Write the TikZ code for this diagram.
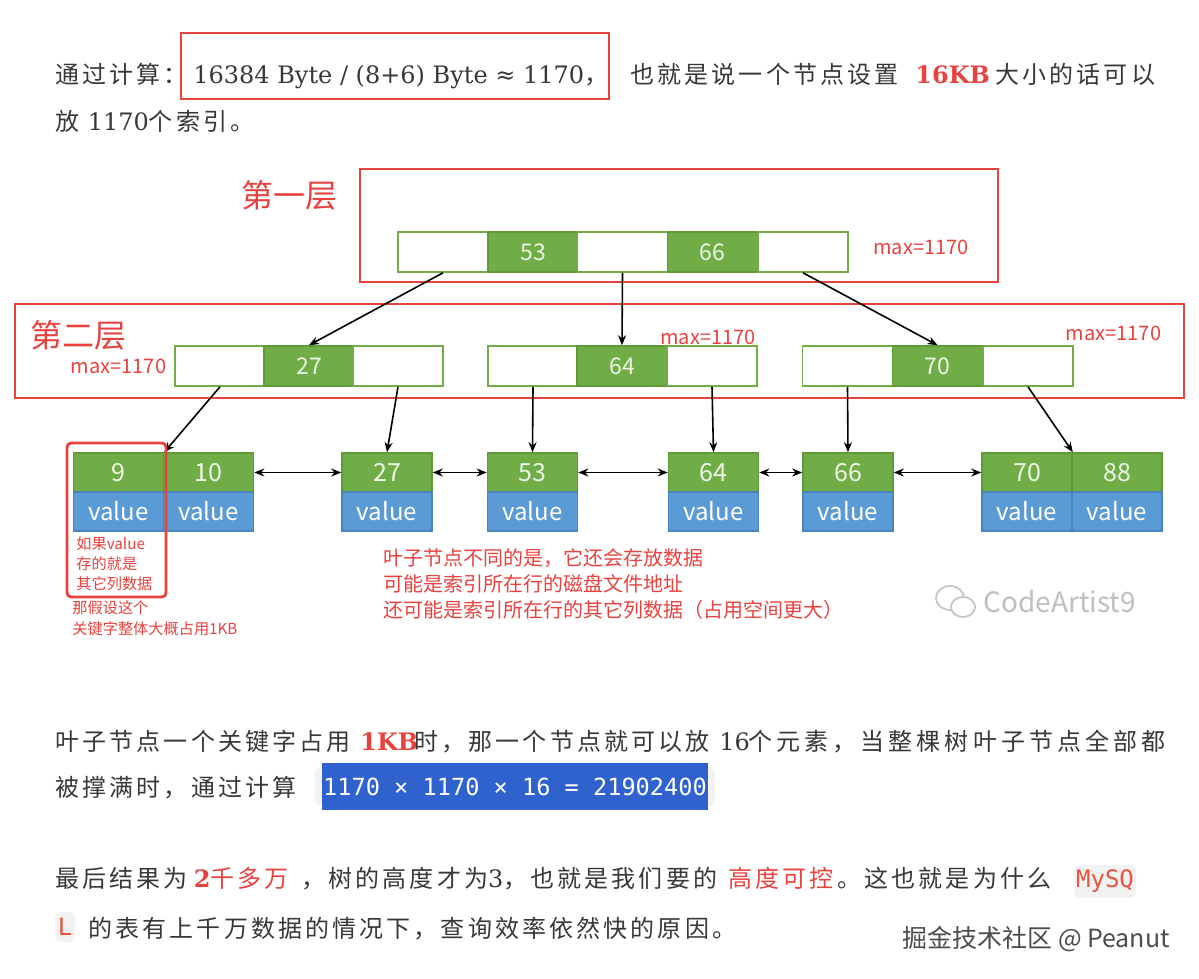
\documentclass[tikz,border=0pt]{standalone}
\usepackage{fontspec}
\usepackage{xcolor}
\usetikzlibrary{arrows.meta}
\setmainfont{Noto Sans CJK SC}
\newfontfamily\bodycjk[LetterSpace=13]{Noto Sans CJK SC}
\newfontfamily\bodylat{DejaVu Serif}
\newfontfamily\codemono{DejaVu Sans Mono}

\definecolor{boxred}{HTML}{E8423F}
\definecolor{cellgreen}{HTML}{70AD47}
\definecolor{cellgreenline}{HTML}{5E9A3A}
\definecolor{leafblue}{HTML}{5B9BD5}
\definecolor{leafblueline}{HTML}{4A84BC}
\definecolor{celltext}{HTML}{EEF7E8}
\definecolor{bodytext}{HTML}{383838}
\definecolor{codeblue}{HTML}{2F62CC}
\definecolor{codegray}{HTML}{F2F2F2}
\definecolor{codered}{HTML}{E8553E}

\tikzset{>={Stealth[length=5pt,width=4pt]},
  emptycell/.style={draw=cellgreen, line width=0.8pt, fill=white, minimum width=45pt, minimum height=20pt, inner sep=0pt},
  keycell/.style={emptycell, fill=cellgreen, draw=cellgreenline, text=celltext, font=\fontsize{11.5}{12}\selectfont},
  leafkey/.style={keycell, minimum height=19.5pt, font=\fontsize{12.5}{13}\selectfont},
  leafval/.style={leafkey, fill=leafblue, draw=leafblueline, text=white, font=\fontsize{12}{13}\selectfont},
  levelbox/.style={draw=boxred, line width=1.4pt},
  maxnote/.style={text=boxred, inner sep=0pt, font=\fontsize{10}{12}\selectfont},
  parline/.style={anchor=base west, inner sep=0pt, text=bodytext, font=\bodycjk\fontsize{12}{14}\selectfont},
  ptr/.style={->, line width=0.8pt},
  link/.style={<->, line width=0.8pt}}

\begin{document}
\begin{tikzpicture}[x=0.5pt,y=-0.5pt]
    \useasboundingbox (0,0) rectangle (1199,979);
    \fill[white] (0,0) rectangle (1199,979);

    % text above the tree
    \node[parline] (t1a) at (55,84) {通过计算：};
    \node[parline] (t1b) at (193,84) {{\bodylat 16384 Byte / (8+6) Byte ≈ 1170}，};
    \node[parline] (t1c) at (630,84) {也就是说一个节点设置};
    \node[parline, text=boxred] (t1d) at (915,84) {\bodylat\bfseries 16KB};
    \node[parline] (t1e) at (995,84) {大小的话可以};
    \node[parline] (t2) at (55,131) {放 {\bodylat 1170}个索引。};
    \draw[levelbox] (181,33) rectangle (609,99);

    % level boxes
    \draw[levelbox] (360,169) rectangle (998,282);
    \draw[levelbox] (15,304) rectangle (1184,398);
    \node[text=boxred, font=\fontsize{16}{18}\selectfont] (lvl1) at (289,195) {第一层};
    \node[text=boxred, font=\fontsize{16}{18}\selectfont] (lvl2) at (78,335) {第二层};

    % first level
    \node[emptycell] (r0) at (443,252) {};
    \node[keycell]   (r1) at (533,252) {53};
    \node[emptycell] (r2) at (622.5,252) {};
    \node[keycell]   (r3) at (712.5,252) {66};
    \node[emptycell] (r4) at (803,252) {};
    \node[maxnote] (m1) at (921,247) {max=1170};

    % second level
    \node[emptycell] (a0) at (220,366) {};
    \node[keycell]   (a1) at (309,366) {27};
    \node[emptycell] (a2) at (398,366) {};
    \node[emptycell] (b0) at (533,366) {};
    \node[keycell]   (b1) at (622,366) {64};
    \node[emptycell] (b2) at (712,366) {};
    \node[emptycell] (c0) at (847.5,366) {};
    \node[keycell]   (c1) at (937.5,366) {70};
    \node[emptycell] (c2) at (1028,366) {};
    \node[maxnote] (m2a) at (118.5,366) {max=1170};
    \node[maxnote] (m2b) at (708,337) {max=1170};
    \node[maxnote] (m2c) at (1113.5,333) {max=1170};

    % leaves
    \node[leafkey] (k9)  at (118.5,472.5) {9};
    \node[leafval] (v9)  at (118.5,511.5) {value};
    \node[leafkey] (k10) at (208.5,472.5) {10};
    \node[leafval] (v10) at (208.5,511.5) {value};
    \node[leafkey] (k27) at (387,472.5) {27};
    \node[leafval] (v27) at (387,511.5) {value};
    \node[leafkey] (k53) at (532.5,472.5) {53};
    \node[leafval] (v53) at (532.5,511.5) {value};
    \node[leafkey] (k64) at (713.5,472.5) {64};
    \node[leafval] (v64) at (713.5,511.5) {value};
    \node[leafkey] (k66) at (848,472.5) {66};
    \node[leafval] (v66) at (848,511.5) {value};
    \node[leafkey] (k70) at (1027,472.5) {70};
    \node[leafval] (v70) at (1027,511.5) {value};
    \node[leafkey] (k88) at (1117,472.5) {88};
    \node[leafval] (v88) at (1117,511.5) {value};

    \draw[ptr] (r0.south) -- (a1.north);
    \draw[ptr] (r2.south) -- (b1.north);
    \draw[ptr] (r4.south) -- (c1.north);
    \draw[ptr] (a0.south) -- (k9.north east);
    \draw[ptr] (a2.south) -- (k27.north);
    \draw[ptr] (b0.south) -- (k53.north);
    \draw[ptr] (b2.south) -- (k64.north);
    \draw[ptr] (c0.south) -- (k66.north);
    \draw[ptr] (c2.south) -- (k70.north east);

    \draw[link] (k10.east) -- (k27.west);
    \draw[link] (k27.east) -- (k53.west);
    \draw[link] (k53.east) -- (k64.west);
    \draw[link] (k64.east) -- (k66.west);
    \draw[link] (k66.east) -- (k70.west);

    % notes
    \draw[levelbox, rounded corners=2pt] (67,443) rectangle (166,597);
    \node[anchor=north west, align=left, inner sep=0pt, text=boxred, font=\fontsize{7.6}{10.2}\selectfont] (n9) at (76,536) {如果value\\存的就是\\其它列数据};
    \node[anchor=north west, align=left, inner sep=0pt, text=boxred, font=\fontsize{7.6}{10.5}\selectfont] (n1kb) at (72,600) {那假设这个\\关键字整体大概占用1KB};
    \node[anchor=north west, align=left, inner sep=0pt, text=boxred, font=\fontsize{10}{13}\selectfont] (nleaf) at (383,548) {叶子节点不同的是，它还会存放数据\\可能是索引所在行的磁盘文件地址\\还可能是索引所在行的其它列数据（占用空间更大）};

    % watermark
    \draw[gray!45, line width=0.9pt] (950,598) ellipse (7pt and 6pt);
    \draw[gray!45, line width=0.9pt, fill=white] (963,607) ellipse (6pt and 5pt);
    \node[anchor=west, inner sep=0pt, text=gray!50, font=\fontsize{14}{16}\selectfont] (wm) at (983,602) {CodeArtist9};

    % text below the tree
    \node[parline] (la1) at (55,750) {叶子节点一个关键字占用};
    \node[parline, text=boxred] (la2) at (360,750) {\bodylat\bfseries 1KB};
    \node[parline] (la3) at (414,750) {时，那一个节点就可以放};
    \node[parline] (la4) at (719,750) {\bodylat 16};
    \node[parline] (la5) at (748,750) {\addfontfeature{LetterSpace=17}个元素，当整棵树叶子节点全部都};

    \node[parline] (lb1) at (55,796) {被撑满时，通过计算};
    \fill[codegray, rounded corners=3pt] (315,767) rectangle (715,806);
    \node[fill=codeblue, text=white, minimum width=193pt, minimum height=23.5pt, inner sep=0pt, font=\codemono\fontsize{11.8}{13}\selectfont] (calc) at (515,786.5) {1170 × 1170 × 16 = 21902400};

    \node[parline] (lc1) at (55,887) {最后结果为};
    \node[parline, text=boxred] (lc2) at (193.5,887) {{\bodylat\bfseries 2}千多万};
    \node[parline] (lc3) at (301,887) {，树的高度才为{\bodylat 3}，也就是我们要的};
    \node[parline, text=boxred] (lc4) at (728,887) {高度可控};
    \node[parline] (lc5) at (837,887) {。这也就是为什么};
    \node[fill=codegray, rounded corners=3pt, text=codered, minimum width=31pt, minimum height=16.5pt, inner sep=0pt, font=\codemono\fontsize{12}{13}\selectfont] (mysq) at (1105,881.5) {MySQ};

    \node[fill=codegray, rounded corners=3pt, text=codered, minimum width=10pt, minimum height=15pt, inner sep=0pt, font=\codemono\fontsize{12}{13}\selectfont] (sql) at (65,927) {L};
    \node[parline] (ld1) at (88,937) {的表有上千万数据的情况下，查询效率依然快的原因。};

    \node[anchor=base west, inner sep=0pt, text=black!70, font=\fontsize{12.5}{14}\selectfont] (jj) at (902,947) {掘金技术社区 @ Peanut};
\end{tikzpicture}
\end{document}
